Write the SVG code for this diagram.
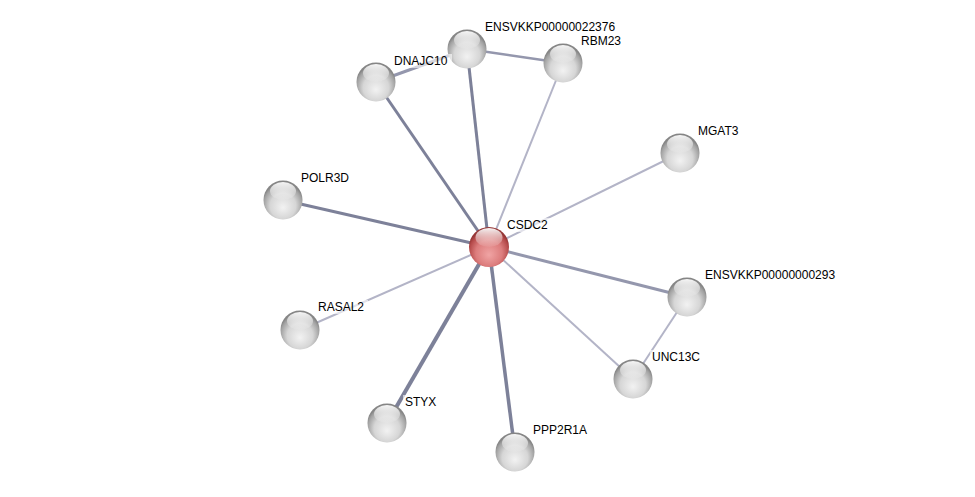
<svg xmlns="http://www.w3.org/2000/svg" width="975" height="497" viewBox="0 0 975 497">
<defs>
<radialGradient id="gW" cx="50%" cy="62%" r="55%" fx="50%" fy="70%">
<stop offset="0" stop-color="#f2f2f2"/>
<stop offset="0.6" stop-color="#d6d6d6"/>
<stop offset="0.9" stop-color="#a2a2a2"/>
<stop offset="1" stop-color="#858585"/>
</radialGradient>
<radialGradient id="gR" cx="50%" cy="62%" r="55%" fx="50%" fy="70%">
<stop offset="0" stop-color="#f0a4a4"/>
<stop offset="0.6" stop-color="#dc7c7c"/>
<stop offset="0.9" stop-color="#b54a4a"/>
<stop offset="1" stop-color="#963636"/>
</radialGradient>
<linearGradient id="hl" x1="0" y1="0" x2="0" y2="1">
<stop offset="0" stop-color="#ffffff" stop-opacity="0.95"/>
<stop offset="1" stop-color="#ffffff" stop-opacity="0.05"/>
</linearGradient>
<g id="sphW">
<circle r="19.5" fill="url(#gW)"/>
<ellipse cx="0" cy="-9" rx="13" ry="9" fill="url(#hl)"/>
</g>
<g id="sphR">
<circle r="20" fill="url(#gR)"/>
<ellipse cx="0" cy="-9.5" rx="13.5" ry="9.5" fill="url(#hl)"/>
</g>
</defs>
<style>
.lbl{font-family:"Liberation Sans",Arial,sans-serif;font-size:12px;fill:#000}
.bg{fill:#ffffff;fill-opacity:0.6}
.e{stroke-linecap:butt;fill:none}
.d{stroke:#7d8199}
.m{stroke:#9497ad}
.l{stroke:#b3b4c7}
</style>
<rect width="975" height="497" fill="#ffffff"/>
<g id="edges">
<line class="e d" x1="489" y1="247" x2="376" y2="82" stroke-width="3"/>
<line class="e d" x1="489" y1="247" x2="467" y2="49" stroke-width="3"/>
<line class="e l" x1="489" y1="247" x2="563" y2="63" stroke-width="2"/>
<line class="e l" x1="489" y1="247" x2="680" y2="153" stroke-width="2"/>
<line class="e d" x1="489" y1="247" x2="283" y2="200" stroke-width="3"/>
<line class="e m" x1="489" y1="247" x2="687" y2="297" stroke-width="3"/>
<line class="e l" x1="489" y1="247" x2="300" y2="330" stroke-width="2"/>
<line class="e l" x1="489" y1="247" x2="633" y2="379" stroke-width="2"/>
<line class="e d" x1="489" y1="247" x2="387" y2="423" stroke-width="4"/>
<line class="e d" x1="489" y1="247" x2="515" y2="452" stroke-width="3.5"/>
<line class="e m" x1="376" y1="82" x2="467" y2="49" stroke-width="3"/>
<line class="e m" x1="467" y1="49" x2="563" y2="63" stroke-width="2.5"/>
<line class="e l" x1="687" y1="297" x2="633" y2="379" stroke-width="2"/>
</g>
<g id="n-ENSVKKP00000022376"><use href="#sphW" x="467" y="49"/><text class="lbl" x="485" y="31">ENSVKKP00000022376</text></g>
<g id="n-RBM23"><use href="#sphW" x="563" y="63"/><text class="lbl" x="581" y="45">RBM23</text></g>
<g id="n-DNAJC10"><rect class="bg" x="392" y="54" width="60" height="14"/><use href="#sphW" x="376" y="82"/><text class="lbl" x="394" y="65">DNAJC10</text></g>
<g id="n-MGAT3"><use href="#sphW" x="680" y="153"/><text class="lbl" x="698" y="135">MGAT3</text></g>
<g id="n-POLR3D"><use href="#sphW" x="283" y="200"/><text class="lbl" x="301" y="182">POLR3D</text></g>
<g id="n-ENSVKKP00000000293"><use href="#sphW" x="687" y="297"/><text class="lbl" x="705" y="279">ENSVKKP00000000293</text></g>
<g id="n-RASAL2"><rect class="bg" x="316" y="300" width="52" height="14"/><use href="#sphW" x="300" y="330"/><text class="lbl" x="318" y="311">RASAL2</text></g>
<g id="n-UNC13C"><rect class="bg" x="650" y="350" width="56" height="14"/><use href="#sphW" x="633" y="379"/><text class="lbl" x="652" y="361">UNC13C</text></g>
<g id="n-STYX"><rect class="bg" x="403" y="395" width="39" height="14"/><use href="#sphW" x="387" y="423"/><text class="lbl" x="405" y="406">STYX</text></g>
<g id="n-PPP2R1A"><use href="#sphW" x="515" y="452"/><text class="lbl" x="533" y="434">PPP2R1A</text></g>
<g id="n-CSDC2"><rect class="bg" x="505" y="218" width="50" height="14"/><use href="#sphR" x="489" y="247"/><text class="lbl" x="507" y="229">CSDC2</text></g>
</svg>
